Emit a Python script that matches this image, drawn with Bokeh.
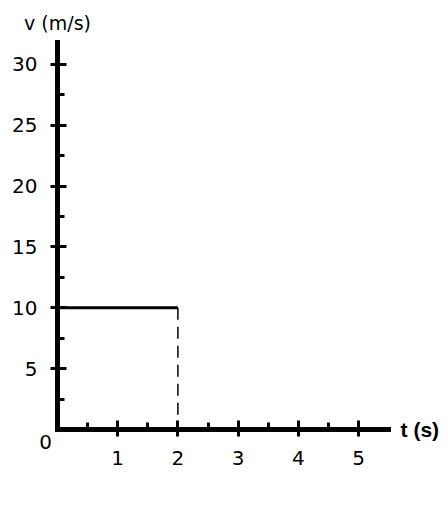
from bokeh.plotting import figure
from bokeh.models import Range1d, LinearAxis, FixedTicker
from bokeh.core.properties import value
from bokeh.embed import file_html
from bokeh.resources import INLINE

# data
times = [0, 2]
velocity = [10, 10]
drop_t = [2, 2]
drop_v = [10, 0]

x_major = [1, 2, 3, 4, 5]
x_minor = [0.5, 1.5, 2.5, 3.5, 4.5]
y_major = [5, 10, 15, 20, 25, 30]
y_minor = [2.5, 7.5, 12.5, 17.5, 22.5, 27.5]
x_labels = ["1", "2", "3", "4", "5"]
y_labels = ["5", "10", "15", "20", "25", "30"]
x_max = 5.5
y_max = 31.8
x_title = "t (s)"
y_title = "v (m/s)"
origin_label = "0"

FONT = "DejaVu Sans"

p = figure(width=440, height=500, output_backend="svg", toolbar_location=None,
           x_range=Range1d(-0.7807, 6.362), y_range=Range1d(-4.191, 35.25),
           x_axis_type=None, y_axis_type=None,
           min_border_left=10, min_border_top=0, min_border_right=0, min_border_bottom=20)
p.outline_line_color = None
p.xgrid.visible = False
p.ygrid.visible = False
p.background_fill_color = "white"
p.border_fill_color = "white"

xa = LinearAxis(ticker=FixedTicker(ticks=x_major, minor_ticks=x_minor),
                fixed_location=0, bounds=(0, x_max))
ya = LinearAxis(ticker=FixedTicker(ticks=y_major, minor_ticks=y_minor),
                fixed_location=0, bounds=(0, y_max))
for ax in (xa, ya):
    ax.axis_line_width = 5
    ax.axis_line_color = "black"
    ax.axis_line_cap = "square"
    ax.major_tick_line_width = 3
    ax.major_tick_line_color = "black"
    ax.minor_tick_line_width = 3
    ax.minor_tick_line_color = "black"
    ax.major_tick_in = 9
    ax.major_tick_out = 7
    ax.minor_tick_in = 7
    ax.minor_tick_out = 0
    # tick labels are drawn as text glyphs below; hide the axis' own labels
    ax.major_label_text_color = None
    ax.major_label_text_font_size = "1px"
    ax.major_label_standoff = 0
p.add_layout(xa, "below")
p.add_layout(ya, "left")

p.line(times, velocity, line_width=3, line_color="black")
p.line(drop_t, drop_v, line_width=1.5, line_color="black", line_dash="12 7")

# tick labels
p.text(x=[0] * len(y_major), y=y_major, text=y_labels, x_offset=-20,
       text_font=value(FONT), text_font_size="20px", text_align="right",
       text_baseline="middle", text_color="black")
p.text(x=x_major, y=[0] * len(x_major), text=x_labels, y_offset=29,
       text_font=value(FONT), text_font_size="20px", text_align="center",
       text_baseline="middle", text_color="black")
p.text(x=[0], y=[0], text=[origin_label], x_offset=-12, y_offset=13,
       text_font=value(FONT), text_font_size="20px", text_align="center",
       text_baseline="middle", text_color="black")
# axis titles
p.text(x=[0], y=[y_max], text=[y_title], y_offset=-19,
       text_font=value(FONT), text_font_size="19px", text_align="center",
       text_baseline="middle", text_color="black")
p.text(x=[x_max], y=[0], text=[x_title], x_offset=12,
       text_font=value("Liberation Sans"), text_font_size="21px", text_font_style="bold",
       text_align="left", text_baseline="middle", text_color="black")

open("out.html", "w").write(file_html(p, INLINE))
